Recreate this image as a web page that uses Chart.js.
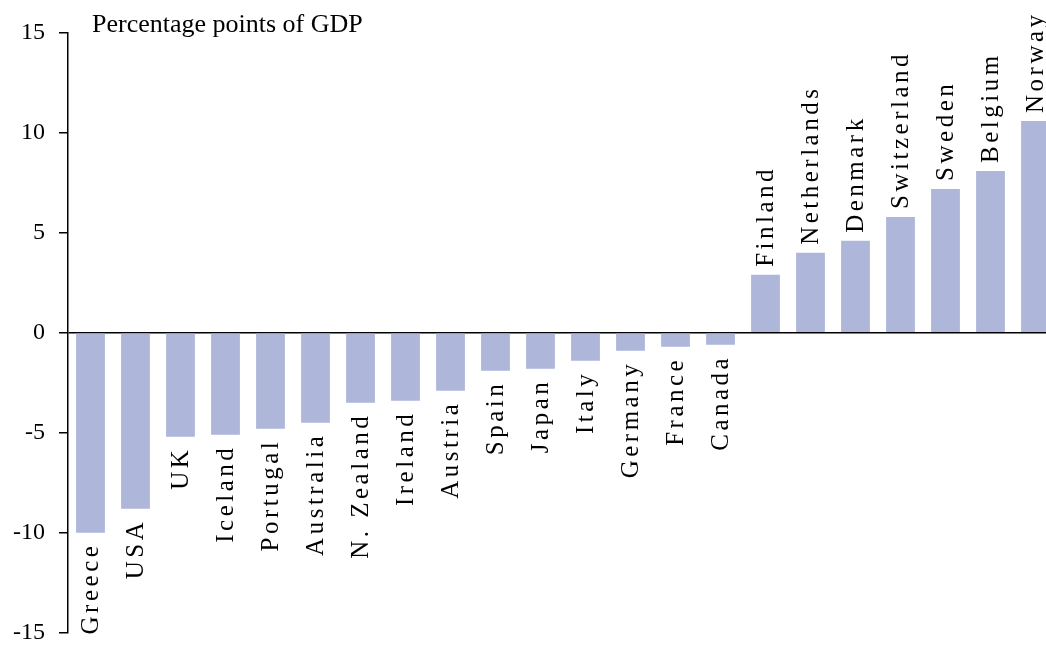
<!DOCTYPE html>
<html>
<head>
<meta charset="utf-8">
<script src="https://cdn.jsdelivr.net/npm/chart.js@4"></script>
<style>
  html, body { margin: 0; padding: 0; background: #fff; overflow: hidden; }
  #wrap { width: 1058px; height: 661px; }
</style>
</head>
<body>
<div id="wrap"><canvas id="chart"></canvas></div>
<script>
const countries = ['Greece','USA','UK','Iceland','Portugal','Australia','N. Zealand','Ireland','Austria','Spain','Japan','Italy','Germany','France','Canada','Finland','Netherlands','Denmark','Switzerland','Sweden','Belgium','Norway'];
const values = [-10.0,-8.8,-5.2,-5.1,-4.8,-4.5,-3.5,-3.4,-2.9,-1.9,-1.8,-1.4,-0.9,-0.7,-0.6,2.9,4.0,4.6,5.8,7.2,8.1,10.6];
const yTicks = [-15,-10,-5,0,5,10,15];
const unitLabel = 'Percentage points of GDP';

const serif = '"Liberation Serif", "Times New Roman", serif';

// country names drawn vertically at the end of each bar
const barLabels = {
  id: 'barLabels',
  afterDatasetsDraw(chart) {
    const ctx = chart.ctx;
    const meta = chart.getDatasetMeta(0);
    ctx.save();
    ctx.font = '25px ' + serif;
    ctx.fillStyle = '#000';
    ctx.letterSpacing = '3.5px';
    ctx.textBaseline = 'alphabetic';
    meta.data.forEach((bar, i) => {
      const v = values[i];
      ctx.save();
      if (v >= 0) {
        ctx.translate(bar.x + 7, bar.y - 8);
        ctx.rotate(-Math.PI / 2);
        ctx.textAlign = 'left';
      } else {
        ctx.translate(bar.x + 7, bar.y + 10);
        ctx.rotate(-Math.PI / 2);
        ctx.textAlign = 'right';
      }
      ctx.fillText(countries[i], 0, 0);
      ctx.restore();
    });
    ctx.letterSpacing = '0px';
    ctx.textAlign = 'left';
    ctx.font = '26px ' + serif;
    ctx.fillText(unitLabel, 92, 32);
    ctx.restore();
  }
};

new Chart(document.getElementById('chart'), {
  type: 'bar',
  data: {
    labels: countries,
    datasets: [{
      data: values,
      backgroundColor: '#aeb6da',
      borderWidth: 0,
      barPercentage: 0.64,
      categoryPercentage: 1
    }]
  },
  options: {
    responsive: true,
    maintainAspectRatio: false,
    animation: false,
    layout: { padding: { top: 33, bottom: 12, left: 0, right: 0 } },
    plugins: { legend: { display: false }, tooltip: { enabled: false } },
    scales: {
      x: { display: false },
      y: {
        min: -15,
        max: 15,
        afterBuildTicks: s => { s.ticks = yTicks.map(v => ({ value: v })); },
        afterFit: s => { s.width = 68; },
        border: { display: true, color: '#000', width: 1.5 },
        grid: {
          drawOnChartArea: true,
          color: c => c.tick && c.tick.value === 0 ? '#000' : 'rgba(0,0,0,0)',
          lineWidth: 1.5,
          tickColor: '#000',
          tickLength: 9
        },
        ticks: {
          color: '#000',
          padding: 14,
          font: { family: serif, size: 24 }
        }
      }
    }
  },
  plugins: [barLabels]
});
</script>
</body>
</html>
